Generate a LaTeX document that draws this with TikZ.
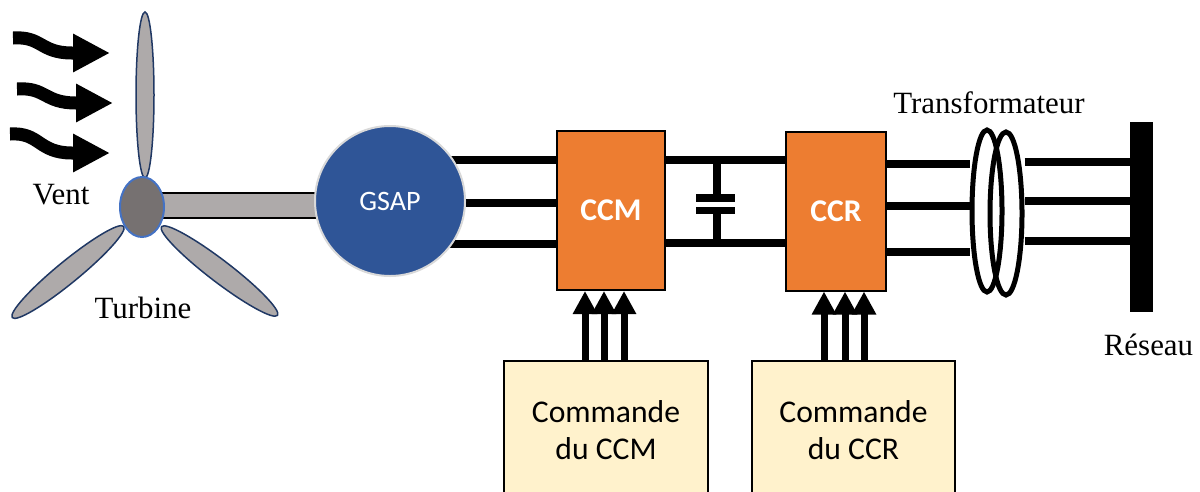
\documentclass[tikz,border=0pt]{standalone}
\usepackage{fontspec}
\setmainfont{Liberation Serif}
\newfontfamily\calibri{Carlito}
\usepackage{tikz}
\usetikzlibrary{shapes.geometric, arrows.meta, positioning, backgrounds}
\definecolor{convfill}{HTML}{ED7D31}
\definecolor{cmdfill}{HTML}{FFF2CC}
\definecolor{genfill}{HTML}{2F5597}
\definecolor{genedge}{HTML}{D9D9D9}
\definecolor{bladefill}{HTML}{AEAAAA}
\definecolor{bladeedge}{HTML}{203864}
\definecolor{hubfill}{HTML}{767171}
\definecolor{hubedge}{HTML}{4472C4}
\tikzset{
    convblock/.style={
        rectangle,
        draw=black,
        line width=0.4mm,
        fill=convfill,
        text=white,
        inner sep=0pt,
        minimum height=31.8mm,
        font=\calibri\bfseries\fontsize{18}{20}\selectfont
    },
    cmdblock/.style={
        rectangle,
        draw=black,
        line width=0.4mm,
        fill=cmdfill,
        align=center,
        inner sep=0pt,
        minimum width=40.8mm,
        minimum height=27.6mm,
        font=\calibri\fontsize{18}{20.7}\selectfont
    },
    genblock/.style={
        circle,
        draw=genedge,
        line width=0.4mm,
        fill=genfill,
        text=white,
        minimum size=30mm,
        font=\calibri\fontsize{16}{18}\selectfont
    },
    coil/.style={
        ellipse,
        draw=black,
        line width=1mm,
        inner sep=0pt,
        minimum width=6mm,
        minimum height=32.4mm
    },
    blade/.style={
        draw=bladeedge,
        line width=0.3mm,
        fill=bladefill
    },
    phase/.style={
        draw=black,
        line width=1.5mm
    },
    ctrl/.style={
        draw=black,
        line width=1.4mm,
        -{Triangle[length=4.6mm, width=4.6mm]}
    },
    wind/.style={
        draw=black,
        line width=2.6mm,
        -{Triangle[length=7.4mm, width=7.2mm]}
    },
    label/.style={
        anchor=base,
        font=\fontsize{17.6}{20}\selectfont
    }
}

\begin{document}
\begin{tikzpicture}[x=0.2mm, y=-0.2mm]
\useasboundingbox (0,0) rectangle (1200,491);
\clip (0,0) rectangle (1200,491);

% Wind
\draw[wind] (13,38) .. controls (42,36) and (40,53) .. (72,53) -- (110,53);
\draw[wind] (17,89) .. controls (46,87) and (44,103) .. (76,103) -- (113,103);
\draw[wind] (10,134) .. controls (40,132) and (38,153) .. (72,153) -- (110,153);
\node[label] (vent) at (61,204) {Vent};

% Turbine blades and hub
\draw[blade] (145,95) ellipse [x radius=9, y radius=83];
\draw[blade, rotate around={39.3:(68,272)}] (68,272) ellipse [x radius=72, y radius=11];
\draw[blade, rotate around={-37.4:(219.5,271)}] (219.5,271) ellipse [x radius=73, y radius=11];
\node[ellipse, draw=hubedge, line width=0.4mm, fill=hubfill, inner sep=0pt,
      minimum width=8.8mm, minimum height=12mm] (hub) at (142,207) {};
\node[label] (turbine) at (143,318) {Turbine};

% Generator and converters
\node[genblock] (gsap) at (390,201) {GSAP};
\node[convblock, minimum width=21.6mm] (ccm) at (611,210.5) {CCM};
\node[convblock, minimum width=20mm] (ccr) at (836,211) {CCR};

% Transformer and grid
\node[coil] (tr1) at (987,211) {};
\node[coil, minimum width=6.4mm, minimum height=32.6mm] (tr2) at (1006,213.5) {};
\node[label] (trlabel) at (989,113) {Transformateur};
\node[rectangle, fill=black, inner sep=0pt, minimum width=4.6mm, minimum height=38mm] (bus) at (1141.5,217) {};
\node[label] (reseau) at (1148.5,355) {Réseau};

% Control blocks
\node[cmdblock] (cmdccm) at (606,430) {Commande\\du CCM};
\node[cmdblock, minimum width=40.6mm] (cmdccr) at (853.5,430) {Commande\\du CCR};

% Connections
\begin{scope}[on background layer]
\draw[draw=black, line width=0.3mm, fill=bladefill] (hub.center |- 0,193) rectangle (gsap.center |- 0,218);
\foreach \y in {160,203,244}
    \draw[phase] (gsap.center |- 0,\y) -- (ccm.west |- 0,\y);
\end{scope}
\foreach \y in {160,243}
    \draw[phase] (ccm.east |- 0,\y) -- (ccr.west |- 0,\y);
\foreach \y in {164,206,252}
    \draw[phase] (ccr.east |- 0,\y) -- (tr1.west |- 0,\y);
\foreach \y in {162,201,241}
    \draw[phase] (tr2.east |- 0,\y) -- (bus.west |- 0,\y);

% DC link capacitor
\draw[phase] (717,160) -- (717,198);
\draw[phase] (717,210.5) -- (717,243);
\draw[phase] (696,198) -- (735,198);
\draw[phase] (696,210.5) -- (735,210.5);

% Control signals
\foreach \x in {585,604,624}
    \draw[ctrl] (cmdccm.north -| \x,0) -- (ccm.south -| \x,0);
\foreach \x in {824,845,864}
    \draw[ctrl] (cmdccr.north -| \x,0) -- (ccr.south -| \x,0);

\end{tikzpicture}
\end{document}
